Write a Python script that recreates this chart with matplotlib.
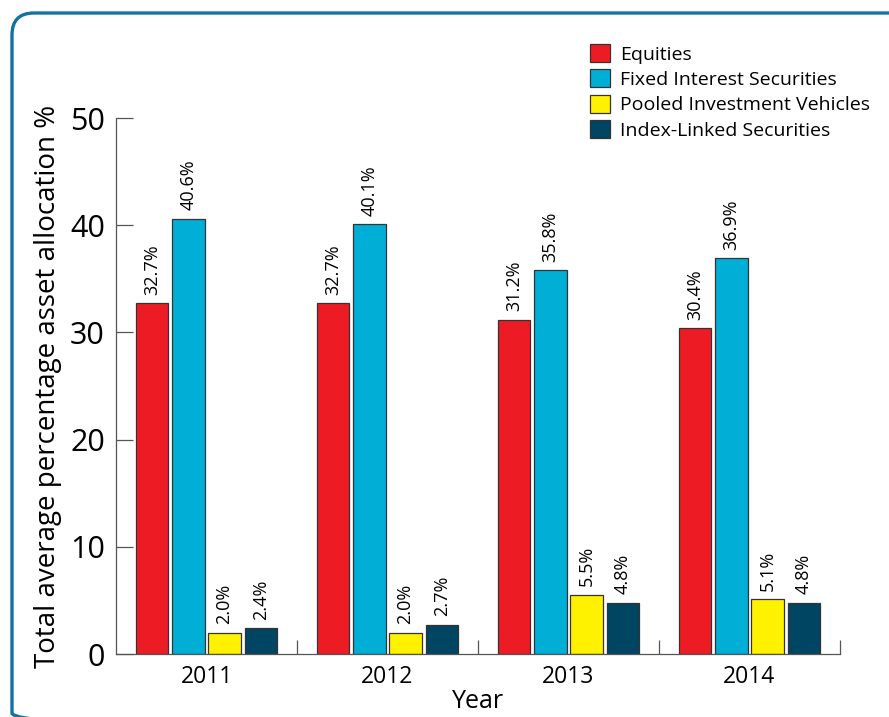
import numpy as np
import matplotlib
matplotlib.use('Agg')
import matplotlib.pyplot as plt
from matplotlib.patches import FancyBboxPatch

###############################################################################
## data
###############################################################################

years = ['2011', '2012', '2013', '2014']
series = ['Equities', 'Fixed Interest Securities',
          'Pooled Investment Vehicles', 'Index-Linked Securities']
equities = [32.7, 32.7, 31.2, 30.4]
fixed_interest = [40.6, 40.1, 35.8, 36.9]
pooled = [2.0, 2.0, 5.5, 5.1]
index_linked = [2.4, 2.7, 4.8, 4.8]
colors = ['#ed1c24', '#00aed6', '#fff200', '#004562']

###############################################################################
## plot
###############################################################################

plt.rcParams['font.family'] = ['Open Sans', 'DejaVu Sans']

fig = plt.figure(figsize=(8.89, 7.17), dpi=100)

# rounded frame drawn in pixel coordinates (bottom runs off the image)
bg = fig.add_axes([0, 0, 1, 1], zorder=-1)
bg.set_xlim(0, 889)
bg.set_ylim(717, 0)
bg.axis('off')
frame = FancyBboxPatch((12, 13), 900, 722,
                       boxstyle='round,pad=0,rounding_size=22',
                       fill=False, edgecolor='#1273a0', linewidth=2.4)
bg.add_patch(frame)

ax = fig.add_axes([116/889, 1 - 654/717, (840 - 116)/889, (654 - 118)/717])
ax.patch.set_alpha(0)

x = np.arange(len(years))
width = 0.18
offsets = [-0.3, -0.1, 0.1, 0.3]
all_vals = [equities, fixed_interest, pooled, index_linked]

for vals, off, col, name in zip(all_vals, offsets, colors, series):
    bars = ax.bar(x + off, vals, width, color=col, edgecolor='#333333',
                  linewidth=0.9, label=name)
    for b, v in zip(bars, vals):
        ax.text(b.get_x() + b.get_width()/2, v + 0.8, '%.1f%%' % v,
                rotation=90, ha='center', va='bottom', fontsize=13)

ax.set_xlim(-0.5, 3.5)
ax.set_ylim(0, 50)
ax.set_yticks([0, 10, 20, 30, 40, 50])
ax.tick_params(axis='y', direction='in', length=12, width=0.9,
               colors='#555555', labelcolor='black', labelsize=22, pad=8)

# group separators as minor ticks pointing up
ax.set_xticks(x)
ax.set_xticklabels(years)
ax.set_xticks([0.5, 1.5, 2.5, 3.5], minor=True)
ax.tick_params(axis='x', which='major', length=0, labelsize=16.5, pad=8)
ax.tick_params(axis='x', which='minor', direction='in', length=10,
               width=0.9, colors='#555555')

for s in ['top', 'right']:
    ax.spines[s].set_visible(False)
for s in ['left', 'bottom']:
    ax.spines[s].set_color('#555555')
    ax.spines[s].set_linewidth(0.9)

ax.set_xlabel('Year', fontsize=18, labelpad=0)
ax.set_ylabel('Total average percentage asset allocation %', fontsize=20,
              labelpad=6)

ax.legend(loc='upper left', bbox_to_anchor=(590/889, 1 - 44/717),
          bbox_transform=fig.transFigure, frameon=False, fontsize=14,
          handlelength=1.03, handleheight=1.03, handletextpad=0.5,
          labelspacing=0.3, borderpad=0, borderaxespad=0)

fig.savefig('out.png', dpi=100)
